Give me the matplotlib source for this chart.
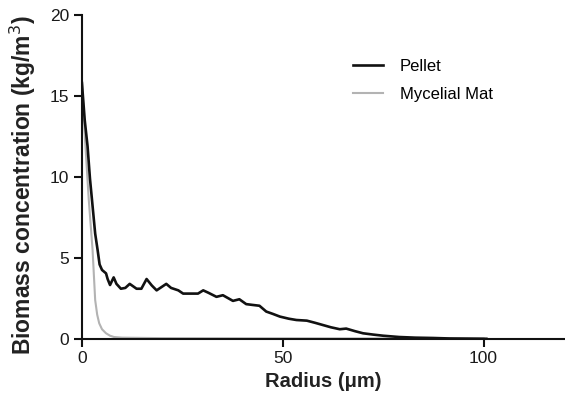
import matplotlib
matplotlib.use('Agg')
import matplotlib.pyplot as plt

plt.rcParams['font.family'] = ['Liberation Sans', 'DejaVu Sans']

# radius (um) and biomass concentration (kg/m3)
pellet_r = [0, 0.7, 1.4, 2.0, 2.5, 3.3, 3.9, 4.4, 5.0, 6.0, 6.4, 7.0, 7.9, 8.6, 9.7,
            10.8, 11.9, 13.6, 14.8, 16.1, 17.4, 18.6, 21.0, 22.2, 24.0, 25.2, 27.7,
            28.9, 30.2, 31.5, 33.5, 35.1, 37.6, 39.2, 40.9, 42.5, 44.2, 45.9, 47.5,
            49.3, 51.5, 53.4, 56.0, 58.0, 60.0, 62.0, 64.2, 65.8, 68.0, 70.0, 72.5,
            75.0, 79.0, 83.0, 87.4, 91.5, 96.0, 100.7]
pellet_c = [15.8, 13.5, 11.9, 9.9, 8.6, 6.5, 5.5, 4.6, 4.26, 4.05, 3.7, 3.33, 3.8, 3.4, 3.1,
            3.15, 3.4, 3.1, 3.1, 3.7, 3.3, 3.0, 3.4, 3.15, 3.0, 2.8, 2.8,
            2.8, 3.0, 2.85, 2.6, 2.7, 2.35, 2.45, 2.15, 2.1, 2.05, 1.69, 1.55,
            1.38, 1.25, 1.17, 1.13, 1.0, 0.86, 0.72, 0.6, 0.64, 0.48, 0.35, 0.27,
            0.2, 0.12, 0.08, 0.06, 0.03, 0.02, 0.01]

mat_r = [0, 0.8, 1.7, 2.65, 3.3, 3.8, 4.3, 5.0, 6.0, 7.0, 8.0, 10.0, 20.0, 40.0, 70.0, 100.0]
mat_c = [16.0, 12.2, 8.6, 5.5, 2.4, 1.5, 0.97, 0.6, 0.35, 0.2, 0.12, 0.08, 0.05, 0.04, 0.03, 0.03]

x_ticks = [0, 50, 100]
y_ticks = [0, 5, 10, 15, 20]

fig = plt.figure(figsize=(5.65, 4.04), dpi=100)
ax = fig.add_axes([0.145, 0.161, 0.853, 0.802])

ax.plot(pellet_r, pellet_c, color='#111111', lw=1.9, label='Pellet', zorder=3)
ax.plot(mat_r, mat_c, color='#b3b3b3', lw=1.5, label='Mycelial Mat', zorder=2)

ax.set_xlim(0, 120)
ax.set_ylim(0, 20)
ax.set_xticks(x_ticks)
ax.set_yticks(y_ticks)
ax.spines['top'].set_visible(False)
ax.spines['right'].set_visible(False)
for s in ('left', 'bottom'):
    ax.spines[s].set_linewidth(1.5)
    ax.spines[s].set_color('#111111')
ax.tick_params(direction='out', length=6, width=1.5, color='#111111',
               labelsize=12.5, pad=3)
for lab in ax.get_xticklabels() + ax.get_yticklabels():
    lab.set_color('#1a1a1a')

ax.set_xlabel('Radius (\u03bcm)', fontsize=14.5, fontweight='bold', color='#222222', labelpad=4)
ax.set_ylabel('Biomass concentration (kg/m$^3$)', fontsize=16.5, fontweight='bold',
              color='#222222')
ax.yaxis.set_label_coords(-0.092, 0.475)

ax.legend(loc='upper left', bbox_to_anchor=(0.532, 0.91), frameon=False, fontsize=12,
          handlelength=1.8, handletextpad=1.0, labelspacing=0.75)

fig.savefig('out.png', dpi=100)
